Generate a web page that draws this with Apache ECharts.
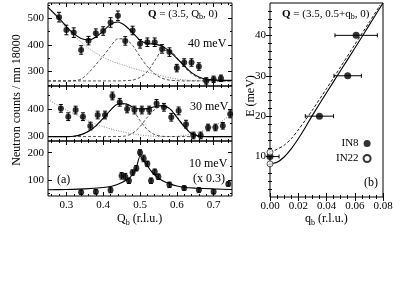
<!DOCTYPE html>
<html><head><meta charset="utf-8">
<script src="https://cdn.jsdelivr.net/npm/echarts@6/dist/echarts.min.js"></script>
<style>html,body{margin:0;padding:0;background:#fff}#c{width:403px;height:281px}</style>
</head><body><div id="c"></div>
<script>
// ---------- data ----------
// (a) top panel, 40 meV
const q40 = [0.28,0.30,0.32,0.34,0.36,0.38,0.40,0.42,0.44,0.46,0.48,0.50,0.52,0.54,0.56,0.58,0.60,0.62,0.64,0.66,0.68,0.70,0.72];
const n40 = [504,456,446,381,416,444,452,484,509,415,454,404,410,410,385,373,313,334,334,319,265,271,275];
const e40 = [18,18,18,16,16,16,16,18,18,16,16,16,16,16,16,16,14,14,14,14,12,12,12];
const curveQ40 = [0.25,0.28,0.30,0.32,0.34,0.36,0.38,0.40,0.42,0.44,0.46,0.48,0.50,0.52,0.54,0.56,0.58,0.60,0.62,0.64,0.66,0.68,0.70,0.75];
const fit40 = [541,500,469,442,424,419,429,452,477,486,472,446,418,405,403,396,376,350,322,296,280,272,269,267];
const bg40  = [541,493,463,436,410,388,369,354,341,331,322,313,305,298,291,284,277,272,269,267,266,265,265,265];
const pk1_40 = [265,265,265,266,272,295,326,358,394,423,421,398,356,319,291,275,268,266,265,265,265,265,265,265];
const pk2_40 = [265,265,265,265,265,265,265,265,265,265,266,268,278,300,340,378,380,352,318,292,276,268,266,265];

// (a) middle panel, 30 meV
const q30 = [0.285,0.305,0.325,0.345,0.365,0.385,0.405,0.425,0.445,0.465,0.485,0.505,0.525,0.545,0.565,0.585,0.605,0.625,0.645,0.665,0.685,0.705,0.725,0.745];
const n30 = [402,372,396,372,338,378,378,447,424,400,396,396,396,420,406,370,393,345,304,304,333,333,339,382];
const e30 = [14,14,14,14,14,14,14,14,14,14,14,14,14,14,14,14,14,14,12,12,12,12,12,14];
const curveQ30 = [0.25,0.28,0.30,0.32,0.34,0.36,0.38,0.40,0.42,0.44,0.46,0.48,0.50,0.52,0.54,0.56,0.58,0.60,0.62,0.64,0.66,0.68,0.70,0.72,0.75];
const fit30 = [300,300,300,301,307,319,339,366,396,418,419,407,400,401,408,412,402,370,336,310,302,300,300,300,300];
const bg30  = [435,410,396,383,370,357,345,336,328,321,315,310,306,303,301,300,300,301,304,309,316,326,338,353,385];
const pk1_30 = [300,300,300,301,306,318,337,364,395,417,419,398,358,325,307,301,300,300,300,300,300,300,300,300,300];
const pk2_30 = [300,300,300,300,300,300,300,300,300,300,302,312,336,370,398,410,402,373,338,313,303,300,300,300,300];

// (a) bottom panel, 10 meV (x 0.3)
const q10 = [0.34,0.38,0.42,0.45,0.46,0.47,0.48,0.49,0.50,0.51,0.52,0.53,0.54,0.55,0.58,0.62,0.66,0.70,0.74];
const n10 = [55,57,63,115,112,97,127,143,201,179,159,97,130,112,82,70,63,57,85];
const e10 = [8,8,10,12,12,10,10,10,10,12,10,10,10,10,10,8,8,8,8];
const curveQ10 = [0.25,0.30,0.35,0.40,0.42,0.44,0.46,0.47,0.48,0.49,0.50,0.51,0.52,0.53,0.54,0.56,0.58,0.60,0.62,0.65,0.70,0.75];
const fit10 = [64,65,67,72,76,84,97,106,120,145,188,172,152,133,118,98,86,78,73,70,67,65];

// (b) dispersion
const in8Q = [0.0, 0.035, 0.055, 0.061];
const in8E = [10, 20, 30, 40];
const in8QErr = [0.0064, 0.010, 0.0097, 0.015];
const in22Q = [0.0, 0.0];
const in22E = [11.1, 8.2];
const solidQ = [0, 0.005, 0.01, 0.015, 0.02, 0.025, 0.03, 0.04, 0.05, 0.06, 0.07, 0.08];
const solidE = [8.2, 8.6, 9.9, 11.9, 14.4, 17.2, 20.2, 25.8, 31.3, 36.8, 42.4, 48.0];
const dashQ  = [0, 0.005, 0.01, 0.015, 0.02, 0.025, 0.03, 0.04, 0.05, 0.06, 0.07, 0.078];
const dashE  = [11.1, 11.8, 12.8, 14.4, 16.6, 19.0, 21.5, 26.8, 32.2, 37.7, 43.1, 47.5];

// tick values
const qTicks = [0.3,0.4,0.5,0.6,0.7];
const qMinor = [0.26,0.28,0.30,0.32,0.34,0.36,0.38,0.40,0.42,0.44,0.46,0.48,0.50,0.52,0.54,0.56,0.58,0.60,0.62,0.64,0.66,0.68,0.70,0.72,0.74];
const y40Ticks = [300,400,500];
const y30Ticks = [300,400];
const y10Ticks = [100,200];
const qbTicks = [0,0.02,0.04,0.06,0.08];
const eTicks = [10,20,30,40];

// ---------- chart ----------
const FONT = 'Liberation Serif';
const chart = echarts.init(document.getElementById('c'));
const grid = [
  {left:48, top:3, width:184, height:83},
  {left:48, top:86, width:184, height:55},
  {left:48, top:141, width:184, height:55},
  {left:270, top:3, width:113, height:194}
].map(g => Object.assign({show:true, borderColor:'#000', borderWidth:1, backgroundColor:'transparent'}, g));

const xAxis = [], yAxis = [];
function range(a, b, s) { const r = []; for (let v = a; v <= b + 1e-9; v += s) r.push(+v.toFixed(6)); return r; }
function addAxes(list, g, min, max, majors, minors, labels, fmt, positions, outsideMajor) {
  const first = list.length;
  positions.forEach((pos, pi) => {
    [[majors, 4], [minors, 2]].forEach(([vals, len], mi) => {
      const lab = pi === 0 && mi === 0 && labels;
      const inside = !(outsideMajor && pi === 0 && mi === 0);
      list.push({
        type:'value', gridIndex:g, min, max, position:pos,
        axisLine:{show:false}, splitLine:{show:false},
        axisTick:{show:vals.length>0, inside, length:len, customValues:vals, lineStyle:{color:'#000', width:1}},
        axisLabel:{show:!!lab, customValues: labels || [], formatter: fmt, fontFamily:FONT, fontSize:11, color:'#000', margin:4}
      });
    });
  });
  return first;
}
const fmt1 = v => v.toFixed(1), fmt2 = v => v.toFixed(2), fmt0 = v => String(Math.round(v));
const xi = [], yi = [];
xi[0] = addAxes(xAxis, 0, 0.25, 0.75, qTicks, qMinor, null, fmt1, ['bottom','top']);
yi[0] = addAxes(yAxis, 0, 246, 557, y40Ticks, range(250, 550, 50), y40Ticks, fmt0, ['left','right']);
xi[1] = addAxes(xAxis, 1, 0.25, 0.75, qTicks, qMinor, null, fmt1, ['bottom','top']);
yi[1] = addAxes(yAxis, 1, 284, 483, y30Ticks, range(300, 450, 50), y30Ticks, fmt0, ['left','right']);
xi[2] = addAxes(xAxis, 2, 0.25, 0.75, qTicks, qMinor, qTicks, fmt1, ['bottom','top']);
yi[2] = addAxes(yAxis, 2, 41, 243, y10Ticks, range(50, 200, 50), y10Ticks, fmt0, ['left','right']);
xi[3] = addAxes(xAxis, 3, 0, 0.08, qbTicks, range(0, 0.08, 0.005), qbTicks, fmt2, ['bottom','top']);
yi[3] = addAxes(yAxis, 3, 0, 48, eTicks, range(2, 46, 2), eTicks, fmt0, ['left','right'], true);

const zip = (a, b) => a.map((v, i) => [v, b[i]]);
const SOLID = {color:'#000', width:1.1, type:'solid'};
const DASH = {color:'#222', width:0.8, type:[3,2]};
const DOT = {color:'#888', width:1, type:[1,1.5]};
function line(p, qs, vs, style, smooth) {
  return {type:'line', xAxisIndex:xi[p], yAxisIndex:yi[p], data:zip(qs, vs), showSymbol:false, symbol:'none',
    smooth: smooth == null ? 0.3 : smooth, lineStyle:style, silent:true, z:2, clip:true, animation:false};
}
function errs(p, qs, vs, es, horiz) {
  const data = qs.map((q, i) => horiz ? [q, vs[i], q - es[i], q + es[i]] : [q, vs[i], vs[i] - es[i], vs[i] + es[i]]);
  return {type:'custom', xAxisIndex:xi[p], yAxisIndex:yi[p], data, clip:true, silent:true, z:3, animation:false,
    renderItem(params, api) {
      const x = api.value(0), y = api.value(1), lo = api.value(2), hi = api.value(3);
      const c = 2, st = {stroke:'#000', lineWidth:1};
      let a, b;
      if (horiz) { a = api.coord([lo, y]); b = api.coord([hi, y]); }
      else { a = api.coord([x, lo]); b = api.coord([x, hi]); }
      const kids = [{type:'line', shape:{x1:a[0], y1:a[1], x2:b[0], y2:b[1]}, style:st}];
      if (horiz) {
        kids.push({type:'line', shape:{x1:a[0], y1:a[1]-c, x2:a[0], y2:a[1]+c}, style:st});
        kids.push({type:'line', shape:{x1:b[0], y1:b[1]-c, x2:b[0], y2:b[1]+c}, style:st});
      } else {
        kids.push({type:'line', shape:{x1:a[0]-c, y1:a[1], x2:a[0]+c, y2:a[1]}, style:st});
        kids.push({type:'line', shape:{x1:b[0]-c, y1:b[1], x2:b[0]+c, y2:b[1]}, style:st});
      }
      return {type:'group', children:kids};
    }};
}
function pts(p, qs, vs, name, size, open) {
  return {type:'scatter', name, xAxisIndex:xi[p], yAxisIndex:yi[p], data:zip(qs, vs), symbol:'circle', symbolSize:size,
    itemStyle: open ? {color:'#fff', borderColor:'#000', borderWidth:0.8} : {color:'#000'}, z:4, clip:false, silent:true, animation:false};
}

const series = [
  line(0, curveQ40, bg40, DOT), line(0, curveQ40, pk1_40, DASH), line(0, curveQ40, pk2_40, DASH), line(0, curveQ40, fit40, SOLID),
  errs(0, q40, n40, e40), pts(0, q40, n40, '', 6),
  line(1, curveQ30, bg30, DOT), line(1, curveQ30, pk1_30, DASH), line(1, curveQ30, pk2_30, DASH), line(1, curveQ30, fit30, SOLID),
  errs(1, q30, n30, e30), pts(1, q30, n30, '', 6),
  line(2, curveQ10, fit10, SOLID, 0.2), errs(2, q10, n10, e10), pts(2, q10, n10, '', 6),
  line(3, dashQ, dashE, {color:'#000', width:0.9, type:[3,2]}, 0.25), line(3, solidQ, solidE, SOLID, 0.25),
  errs(3, in8Q, in8E, in8QErr, true),
  pts(3, in8Q, in8E, 'IN8', 7), pts(3, in22Q, in22E, 'IN22', 6, true)
];

const T = (x, y, text, extra) => ({type:'text', x, y, z:10, style:Object.assign({text, font:'12px ' + FONT, fill:'#000', textAlign:'left', textVerticalAlign:'middle'}, extra || {})});
const rich = {
  b:{fontFamily:FONT, fontSize:11, fontWeight:'bold', color:'#000'},
  n:{fontFamily:FONT, fontSize:11, color:'#000'},
  s:{fontFamily:FONT, fontSize:8, color:'#000', padding:[6,0,0,0]}
};
const richL = {
  n:{fontFamily:FONT, fontSize:12, color:'#000'},
  s:{fontFamily:FONT, fontSize:8, color:'#000', padding:[7,0,0,0]}
};
const graphic = [
  T(148, 14, '{b|Q}{n| = (3.5, Q}{s|b}{n|, 0)}', {rich}),
  T(188, 44, '40 meV'),
  T(190, 107, '30 meV'),
  T(189, 164, '10 meV'),
  T(193, 179, '(x 0.3)'),
  T(57, 180, '(a)'),
  T(282, 14, '{b|Q}{n| = (3.5, 0.5+q}{s|b}{n|, 0)}', {rich}),
  T(364, 183, '(b)'),
  T(117, 219, '{n|Q}{s|b}{n| (r.l.u.)}', {rich:richL}),
  T(305, 219, '{n|q}{s|b}{n| (r.l.u.)}', {rich:richL}),
  {type:'text', x:17, y:100, rotation:Math.PI/2, z:10, style:{text:'Neutron counts / mn 18000', font:'12px ' + FONT, fill:'#000', textAlign:'center', textVerticalAlign:'middle'}},
  {type:'text', x:251, y:96, rotation:Math.PI/2, z:10, style:{text:'E (meV)', font:'12px ' + FONT, fill:'#000', textAlign:'center', textVerticalAlign:'middle'}}
];

chart.setOption({
  animation:false,
  grid, xAxis, yAxis, series, graphic,
  legend:{data:['IN8','IN22'], orient:'vertical', left:336, top:138, padding:0, align:'right', itemGap:4, itemWidth:7, itemHeight:7,
    selectedMode:false, textStyle:{fontFamily:FONT, fontSize:11, color:'#000', width:24}}
});
</script></body></html>
